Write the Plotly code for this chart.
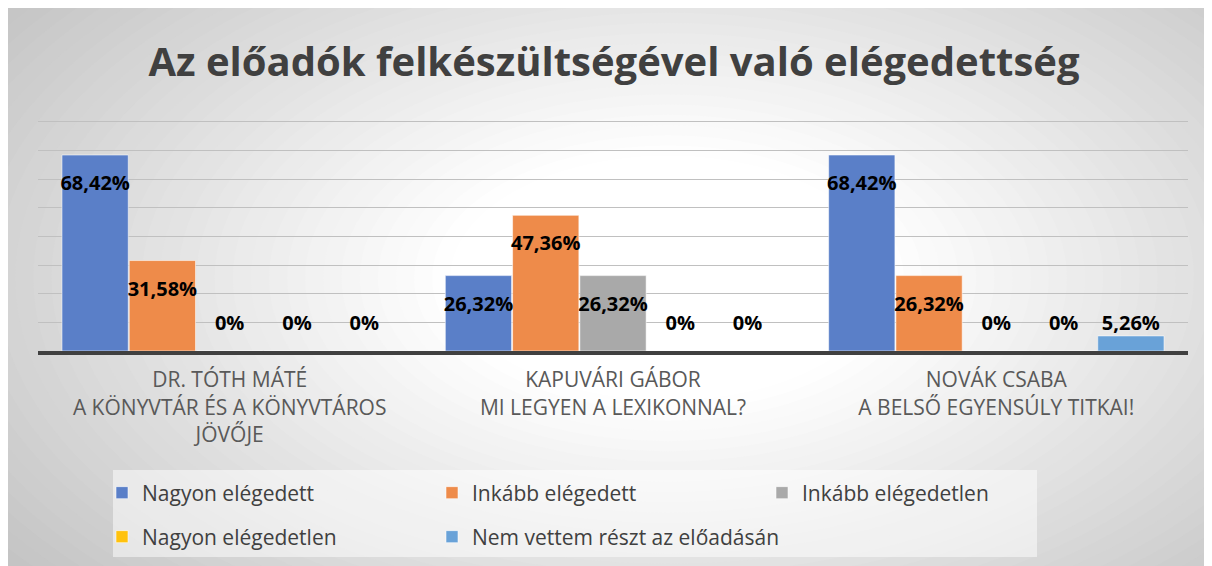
import plotly.graph_objects as go

W, H = 1212, 566

# ---- data ----
categories = [
    "DR. TÓTH MÁTÉ<br>A KÖNYVTÁR ÉS A KÖNYVTÁROS<br>JÖVŐJE",
    "KAPUVÁRI GÁBOR<br>MI LEGYEN A LEXIKONNAL?",
    "NOVÁK CSABA<br>A BELSŐ EGYENSÚLY TITKAI!",
]
series_names = [
    "Nagyon elégedett",
    "Inkább elégedett",
    "Inkább elégedetlen",
    "Nagyon elégedetlen",
    "Nem vettem részt az előadásán",
]
nagyon_elegedett = [68.42, 26.32, 68.42]
inkabb_elegedett = [31.58, 47.36, 26.32]
inkabb_elegedetlen = [0, 26.32, 0]
nagyon_elegedetlen = [0, 0, 0]
nem_vettem_reszt = [0, 0, 5.26]
series_values = [nagyon_elegedett, inkabb_elegedett, inkabb_elegedetlen,
                 nagyon_elegedetlen, nem_vettem_reszt]
colors = ["#5a7fc8", "#ee8b4a", "#a9a9a9", "#ffc20e", "#69a2d8"]
legend_ids = ["legend", "legend", "legend", "legend2", "legend3"]

# ---- layout geometry (figure pixel coords) ----
ML, MR, MT, MB = 30, 32, 111, 223
PW, PH = W - ML - MR, H - MT - MB
YMAX = 81


def px(x):
    return (x - ML) / PW


def py(y):
    return (H - MB - y) / PH


def fmt(v):
    if v == 0:
        return "0%"
    return f"{v:.2f}".replace(".", ",") + "%"


fig = go.Figure()
n = len(series_names)
bw = 0.1755
for j, (name, vals, col) in enumerate(zip(series_names, series_values, colors)):
    xs = [i + (j - (n - 1) / 2) * bw for i in range(len(categories))]
    fig.add_trace(go.Bar(
        x=xs, y=vals, width=bw * 0.985, name=name,
        marker=dict(color=col, line=dict(color="rgba(255,255,255,0.55)", width=1)),
        legend=legend_ids[j],
        hoverinfo="skip",
    ))
for j, (name, vals, col) in enumerate(zip(series_names, series_values, colors)):
    xs = [i + (j - (n - 1) / 2) * bw for i in range(len(categories))]
    fig.add_trace(go.Scatter(
        x=xs, y=[max(v - 10.5, 9) for v in vals], mode="text",
        text=[fmt(v) for v in vals],
        textfont=dict(family="Open Sans", size=20, color="#000000", weight="bold"),
        showlegend=False, cliponaxis=False, hoverinfo="skip",
    ))

# ---- background radial gradient (decorative) ----
shapes = []
cx, cy, rx, ry = 660, 270, 640, 360
N = 60
dmax = 1.7
for k in range(N, 0, -1):
    d = dmax * k / N
    t = min(max((d - 0.35) / (1.3 - 0.35), 0), 1)
    g = int(round(255 - t * (255 - 196)))
    c = f"rgb({g},{g},{g})"
    shapes.append(dict(type="circle", xref="paper", yref="paper", layer="below",
                       x0=px(cx - rx * d), x1=px(cx + rx * d),
                       y0=py(cy + ry * d), y1=py(cy - ry * d),
                       fillcolor=c, line=dict(width=0)))
# legend box
shapes.append(dict(type="rect", xref="paper", yref="paper", layer="below",
                   x0=px(105), x1=px(1029), y0=py(549), y1=py(462),
                   fillcolor="rgba(255,255,255,0.5)", line=dict(width=0)))

legend_common = dict(orientation="h", xanchor="left", yanchor="middle",
                     bgcolor="rgba(0,0,0,0)",
                     font=dict(family="Open Sans", size=21, color="#404040"))

fig.update_layout(
    width=W, height=H,
    margin=dict(l=ML, r=MR, t=MT, b=MB),
    paper_bgcolor="#c4c4c4",
    plot_bgcolor="rgba(0,0,0,0)",
    barmode="overlay",
    title=dict(text="Az előadók felkészültségével való elégedettség",
               xref="container", yref="container",
               x=606 / W, y=1 - 54 / H, xanchor="center", yanchor="middle",
               font=dict(family="Open Sans", size=40, color="#404040", weight="bold")),
    xaxis=dict(range=[-0.5, 2.5], tickvals=[0, 1, 2], ticktext=categories,
               showgrid=False, zeroline=False,
               showline=True, linecolor="#404040", linewidth=4,
               ticks="outside", ticklen=7, tickcolor="rgba(0,0,0,0)",
               tickfont=dict(family="Open Sans", size=21, color="#595959")),
    yaxis=dict(range=[0, YMAX], dtick=10, showticklabels=False,
               showgrid=True, gridcolor="#c0c0c0", gridwidth=1, zeroline=False),
    legend=dict(x=px(94), y=py(485), entrywidth=285, **legend_common),
    legend2=dict(x=px(94), y=py(529), entrywidth=285, **legend_common),
    legend3=dict(x=px(94 + 330), y=py(529), **legend_common),
    shapes=shapes,
    showlegend=True,
)

fig.write_html("out.html")
